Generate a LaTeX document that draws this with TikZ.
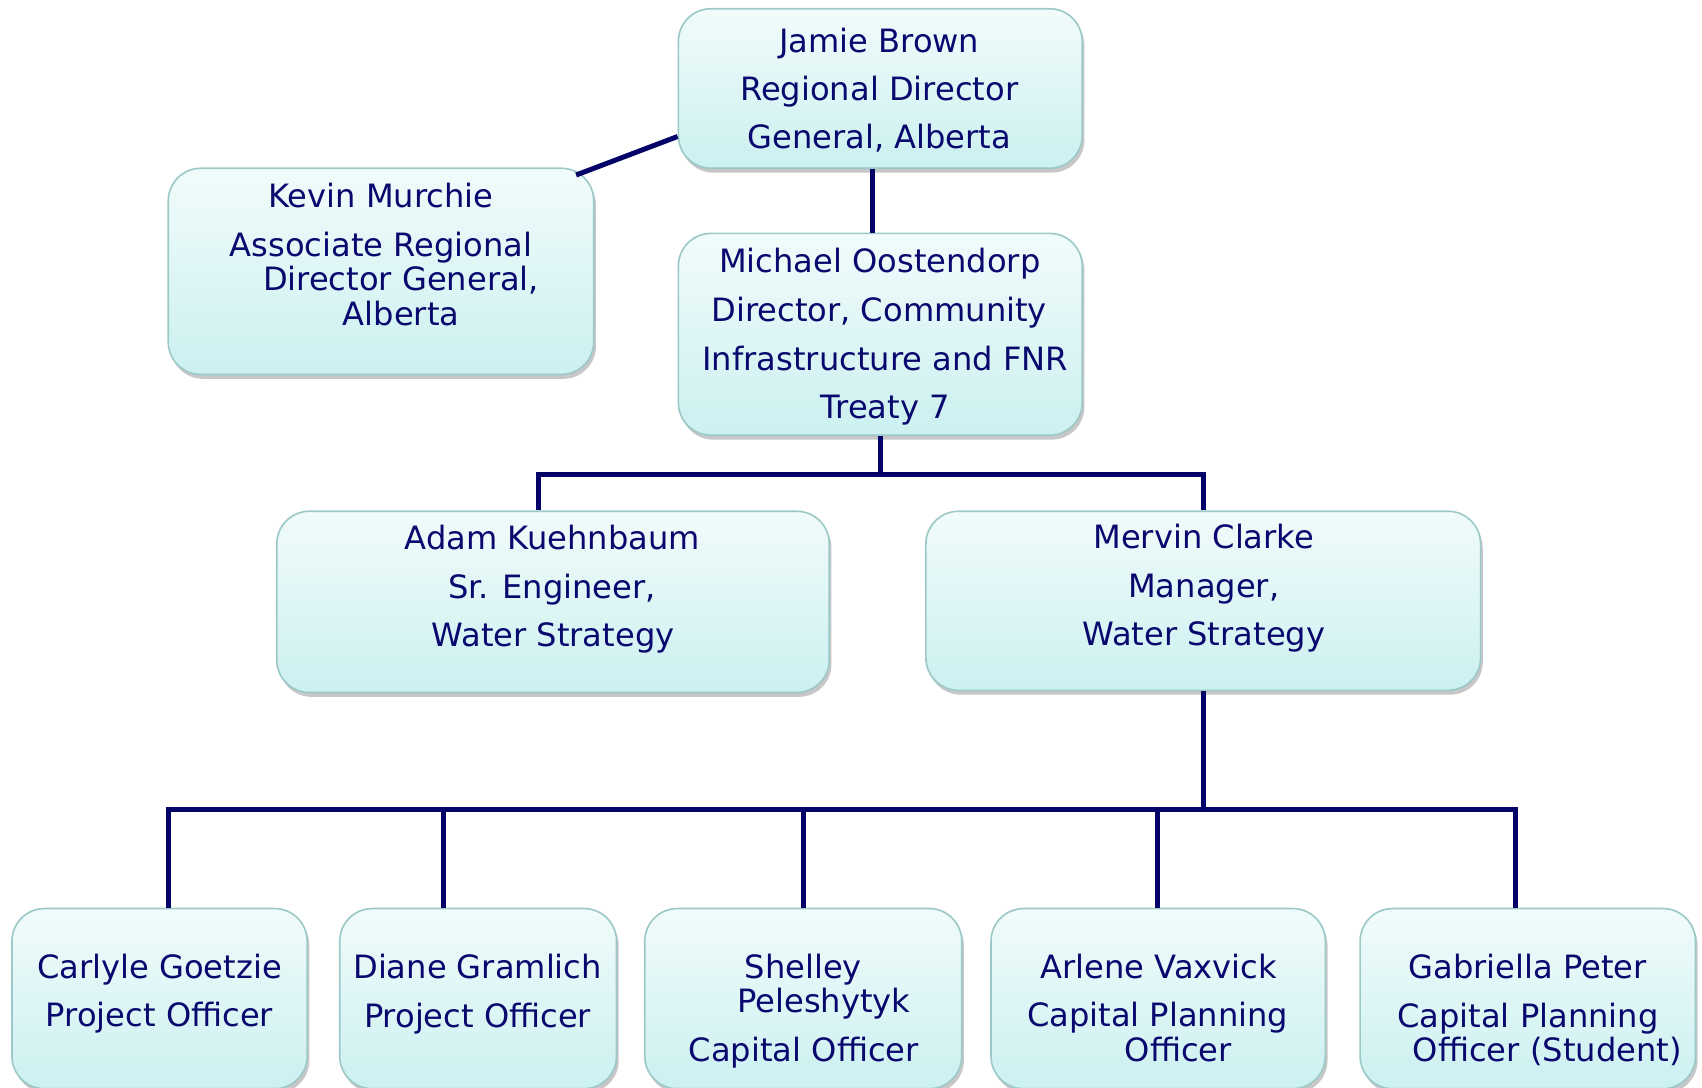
\documentclass[tikz,border=0pt]{standalone}
\usepackage{fontspec}
\setmainfont{DejaVu Sans}
\usetikzlibrary{shadows,calc}
\definecolor{txtblue}{RGB}{8,8,110}
\definecolor{linblue}{RGB}{4,4,104}
\definecolor{boxtop}{RGB}{241,251,251}
\definecolor{boxbot}{RGB}{204,240,240}
\definecolor{boxedge}{RGB}{156,200,200}
\tikzset{
  orgbox/.style={rectangle, rounded corners=30pt, draw=boxedge, line width=1.5pt,
    top color=boxtop, bottom color=boxbot, inner sep=0pt,
    drop shadow={shadow xshift=2pt, shadow yshift=-4pt, opacity=0.22, fill=black}},
  lbl/.style={anchor=base, inner sep=0pt, text=txtblue, font=\fontsize{29.6}{35}\selectfont},
  conn/.style={draw=linblue, line width=4.6pt}
}
\begin{document}
\begin{tikzpicture}[x=1pt,y=-1pt]
\useasboundingbox (0,0) rectangle (1568,1002.3);
% boxes
\node[orgbox, minimum width=372pt, minimum height=147pt] (jamie) at (811,81.5) {};
\node[orgbox, minimum width=392pt, minimum height=190pt] (kevin) at (351,250) {};
\node[orgbox, minimum width=372pt, minimum height=186pt] (michael) at (811,308) {};
\node[orgbox, minimum width=509pt, minimum height=167pt] (adam) at (509.5,554.5) {};
\node[orgbox, minimum width=511pt, minimum height=165pt] (mervin) at (1108.5,553.5) {};
\node[orgbox, minimum width=272pt, minimum height=166pt] (carlyle) at (147,920) {};
\node[orgbox, minimum width=255pt, minimum height=166pt] (diane) at (440.5,920) {};
\node[orgbox, minimum width=292pt, minimum height=166pt] (shelley) at (740,920) {};
\node[orgbox, minimum width=308pt, minimum height=166pt] (arlene) at (1067,920) {};
\node[orgbox, minimum width=309pt, minimum height=166pt] (gabriella) at (1407.5,920) {};
% texts
\node[lbl] (j1) at (810,48) {Jamie Brown};
\node[lbl] (j2) at (810,93) {Regional Director};
\node[lbl] (j3) at (810,137) {General, Alberta};
\node[lbl] (k1) at (351,191) {Kevin Murchie};
\node[lbl] (k2) at (351,236) {Associate Regional};
\node[lbl] (k3) at (369.5,268) {Director General,};
\node[lbl] (k4) at (369.5,300) {Alberta};
\node[lbl] (m1) at (810.5,251) {Michael Oostendorp};
\node[lbl] (m2) at (810,296) {Director, Community};
\node[lbl] (m3) at (815.5,341) {Infrastructure and FNR};
\node[lbl] (m4) at (815.5,386) {Treaty 7};
\node[lbl] (a1) at (509,506) {Adam Kuehnbaum};
\node[lbl] (a2) at (508.5,551) {Sr. Engineer,};
\node[lbl] (a3) at (509.5,596) {Water Strategy};
\node[lbl] (c1) at (1109,505) {Mervin Clarke};
\node[lbl] (c2) at (1109,550) {Manager,};
\node[lbl] (c3) at (1109,595) {Water Strategy};
\node[lbl] (g1) at (147,901) {Carlyle Goetzie};
\node[lbl] (g2) at (147,946) {Project Officer};
\node[lbl] (d1) at (440,901) {Diane Gramlich};
\node[lbl] (d2) at (440,947) {Project Officer};
\node[lbl] (s1) at (740,901) {Shelley};
\node[lbl] (s2) at (759,933) {Peleshytyk};
\node[lbl] (s3) at (740.5,978) {Capital Officer};
\node[lbl] (v1) at (1067.5,901) {Arlene Vaxvick};
\node[lbl] (v2) at (1066.5,946) {Capital Planning};
\node[lbl] (v3) at (1085.5,978) {Officer};
\node[lbl] (p1) at (1407.5,901) {Gabriella Peter};
\node[lbl] (p2) at (1407.5,947) {Capital Planning};
\node[lbl] (p3) at (1425.5,978) {Officer (Student)};
% connectors
\coordinate (busA) at (811,437);
\coordinate (busB) at (1108.5,745.5);
\draw[conn] ($(jamie.south west)+(0,-30)$) -- ($(kevin.north east)+(-17,7)$);
\draw[conn] ([xshift=-7pt]jamie.south) -- ([xshift=-7pt]michael.north);
\draw[conn] (michael.south) -- (busA);
\draw[conn] ([xshift=-13.5pt]adam.north) |- (busA);
\draw[conn] (mervin.north) |- (busA);
\draw[conn] (mervin.south) -- (busB);
\draw[conn] ([xshift=8pt]carlyle.north) |- (busB);
\draw[conn] ([xshift=-31.5pt]diane.north) |- (busB);
\draw[conn] (shelley.north) |- (busB);
\draw[conn] ([xshift=-1pt]arlene.north) |- (busB);
\draw[conn] ([xshift=-11.5pt]gabriella.north) |- (busB);
\end{tikzpicture}
\end{document}
